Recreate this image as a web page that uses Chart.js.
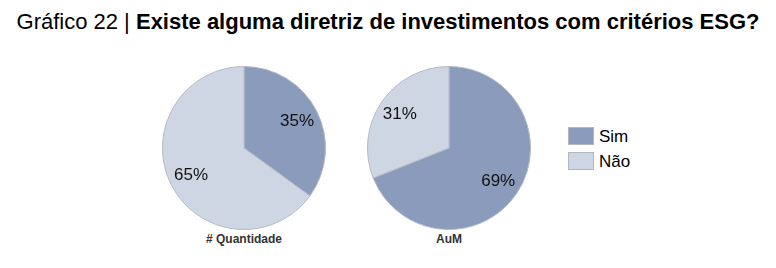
<!DOCTYPE html>
<html>
<head>
<meta charset="utf-8">
<script src="https://cdn.jsdelivr.net/npm/chart.js@4/dist/chart.umd.min.js"></script>
<style>
  body { margin: 0; background: #fff; font-family: "Liberation Sans", Arial, sans-serif; }
  #wrap { position: relative; width: 776px; height: 268px; overflow: hidden; }
  #titulo { position: absolute; left: 0; top: 9px; width: 776px; text-align: center; font-size: 22px; color: #000; white-space: nowrap; }
  .pie { position: absolute; top: 66px; width: 164px; height: 164px; }
  .rot { position: absolute; top: 232px; width: 200px; text-align: center; font-size: 12px; font-weight: bold; color: #333; }
  .leg { position: absolute; left: 568px; font-size: 17px; color: #000; }
  .leg span { display: inline-block; width: 24px; height: 16px; border: 1px solid #b0b6c2; vertical-align: -3px; margin-right: 5px; }
</style>
</head>
<body>
<div id="wrap">
  <div id="titulo">Gráfico 22 | <b>Existe alguma diretriz de investimentos com critérios ESG?</b></div>
  <div class="pie" style="left:162px"><canvas id="pieQtd"></canvas></div>
  <div class="pie" style="left:367px"><canvas id="pieAum"></canvas></div>
  <div class="rot" style="left:144px"># Quantidade</div>
  <div class="rot" style="left:349px">AuM</div>
  <div class="leg" style="top:127px"><span style="background:#8a9bbb"></span>Sim</div>
  <div class="leg" style="top:152px"><span style="background:#cfd6e3"></span>Não</div>
</div>
<script>
var respostas = ['Sim', 'Não'];
var quantidade = [35, 65];
var aum = [69, 31];
var cores = ['#8a9bbb', '#cfd6e3'];

// escreve o % dentro de cada fatia
var rotuloPct = {
  id: 'rotuloPct',
  afterDatasetsDraw: function (chart) {
    var ctx = chart.ctx;
    var meta = chart.getDatasetMeta(0);
    ctx.save();
    ctx.font = '17px "Liberation Sans", Arial, sans-serif';
    ctx.fillStyle = '#111';
    ctx.textAlign = 'center';
    ctx.textBaseline = 'middle';
    meta.data.forEach(function (arc, i) {
      var meio = (arc.startAngle + arc.endAngle) / 2;
      var r = arc.outerRadius * 0.73;
      var x = arc.x + Math.cos(meio) * r;
      var y = arc.y + Math.sin(meio) * r;
      ctx.fillText(chart.data.datasets[0].data[i] + '%', x, y);
    });
    ctx.restore();
  }
};

function criarPizza(id, valores) {
  return new Chart(document.getElementById(id), {
    type: 'pie',
    data: {
      labels: respostas,
      datasets: [{
        data: valores,
        backgroundColor: cores,
        borderColor: '#b4bac6',
        borderWidth: 1
      }]
    },
    options: {
      responsive: true,
      maintainAspectRatio: false,
      animation: false,
      layout: { padding: 0 },
      plugins: {
        legend: { display: false },
        tooltip: { enabled: false }
      }
    },
    plugins: [rotuloPct]
  });
}

criarPizza('pieQtd', quantidade);
criarPizza('pieAum', aum);
</script>
</body>
</html>
